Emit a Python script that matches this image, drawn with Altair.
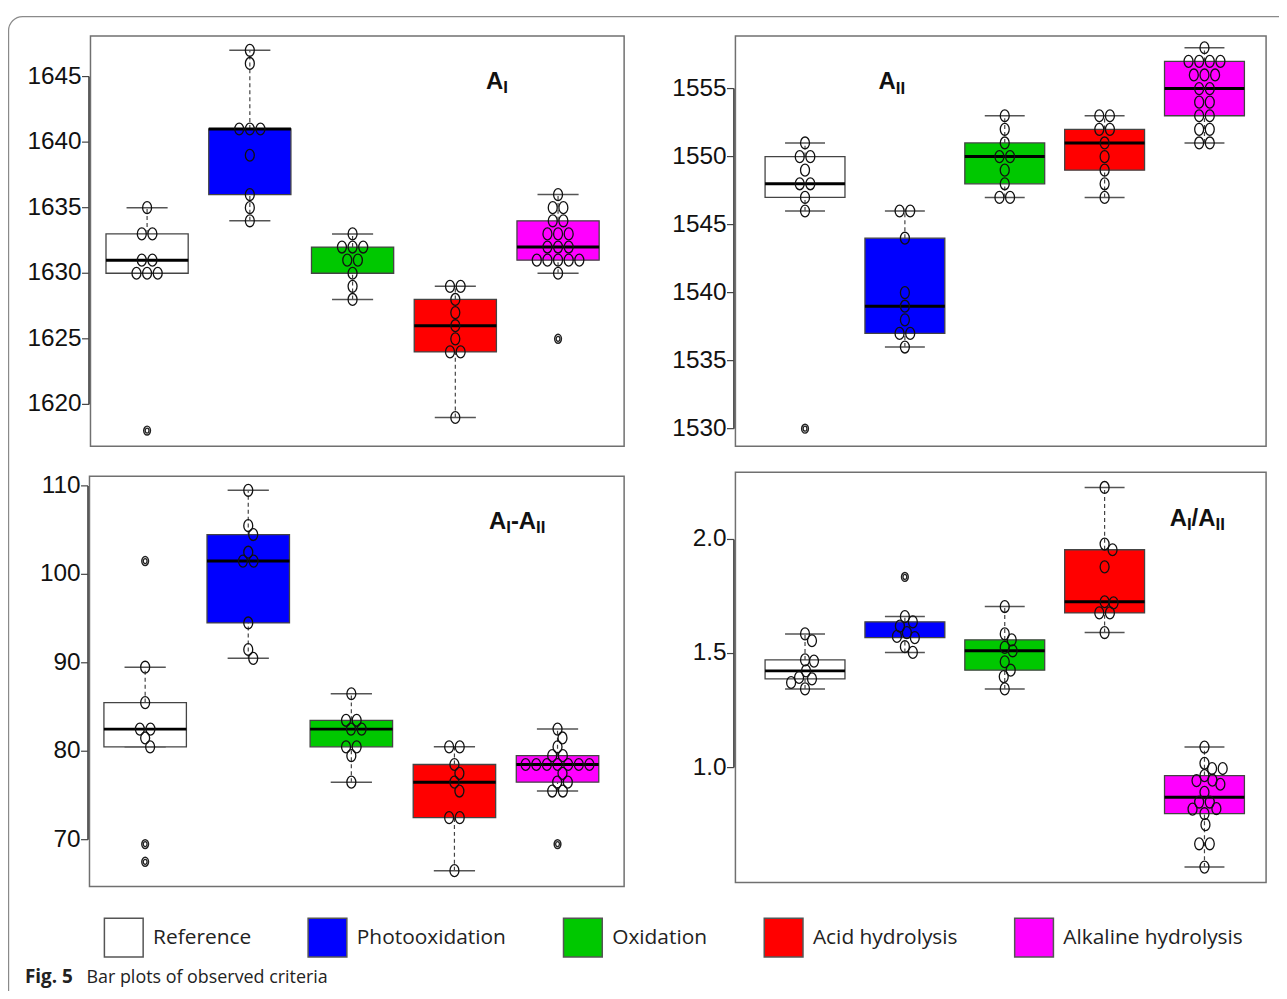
import math
import altair as alt
import pandas as pd

groups = ["Reference", "Photooxidation", "Oxidation", "Acid hydrolysis", "Alkaline hydrolysis"]
colors = ["#FFFFFF", "#0000FF", "#00C800", "#FF0000", "#FF00FF"]

# ---- A_I ----
a1_ref = [1635, 1633, 1633, 1631, 1631, 1630, 1630, 1630, 1618]
a1_photo = [1647, 1646, 1641, 1641, 1641, 1639, 1636, 1635, 1634]
a1_ox = [1633, 1632, 1632, 1632, 1631, 1631, 1630, 1629, 1628]
a1_acid = [1629, 1629, 1628, 1627, 1626, 1625, 1624, 1624, 1619]
a1_alk = [1636, 1635, 1635, 1634, 1634, 1633, 1633, 1633, 1632, 1632, 1632,
          1631, 1631, 1631, 1631, 1631, 1630, 1625]
# ---- A_II ----
a2_ref = [1551, 1550, 1550, 1549, 1548, 1548, 1547, 1546, 1530]
a2_photo = [1546, 1546, 1544, 1540, 1539, 1538, 1537, 1537, 1536]
a2_ox = [1553, 1552, 1551, 1550, 1550, 1549, 1548, 1547, 1547]
a2_acid = [1553, 1553, 1552, 1552, 1551, 1550, 1549, 1548, 1547]
a2_alk = [1558, 1557, 1557, 1557, 1557, 1556, 1556, 1556, 1555, 1555, 1554,
          1554, 1553, 1553, 1552, 1552, 1551, 1551]
# ---- A_I - A_II ----
a3_ref = [101.5, 89.5, 85.5, 82.5, 82.5, 81.5, 80.5, 69.5, 67.5]
a3_photo = [109.5, 105.5, 104.5, 102.5, 101.5, 101.5, 94.5, 91.5, 90.5]
a3_ox = [86.5, 83.5, 83.5, 82.5, 82.5, 80.5, 80.5, 79.5, 76.5]
a3_acid = [80.5, 80.5, 78.5, 77.5, 76.5, 75.5, 72.5, 72.5, 66.5]
a3_alk = [82.5, 81.5, 80.5, 79.5, 79.5, 78.5, 78.5, 78.5, 78.5, 78.5, 78.5,
          78.5, 77.5, 76.5, 76.5, 75.5, 75.5, 69.5]
# ---- A_I / A_II ----
a4_ref = [1.586, 1.556, 1.472, 1.467, 1.424, 1.395, 1.389, 1.373, 1.345]
a4_photo = [1.836, 1.662, 1.639, 1.620, 1.592, 1.575, 1.570, 1.530, 1.505]
a4_ox = [1.706, 1.586, 1.560, 1.527, 1.512, 1.464, 1.427, 1.399, 1.345]
a4_acid = [2.228, 1.980, 1.955, 1.880, 1.727, 1.722, 1.678, 1.678, 1.592]
a4_alk = [1.090, 1.019, 0.996, 0.996, 0.965, 0.945, 0.943, 0.927, 0.892,
          0.849, 0.849, 0.820, 0.818, 0.798, 0.750, 0.666, 0.666, 0.564]

# medians that are not visible in the original figure
hidden_medians = [("AI", "Oxidation"), ("AIAII", "Photooxidation")]

# panel layout (pixel ranges inside the single view) and scales
panels = [
    dict(key="AI", series=[a1_ref, a1_photo, a1_ox, a1_acid, a1_alk],
         ydom=[1616.8, 1648.1], ticks=[1620, 1625, 1630, 1635, 1640, 1645], fmt="{:.0f}",
         xdom=[0.449, 5.643], xr=[83, 620], yr=[433, 20],
         title=[("A", 0), ("I", 1)], tx=481, ty=73),
    dict(key="AII", series=[a2_ref, a2_photo, a2_ox, a2_acid, a2_alk],
         ydom=[1528.7, 1558.87], ticks=[1530, 1535, 1540, 1545, 1550, 1555], fmt="{:.0f}",
         xdom=[0.303, 5.617], xr=[732, 1266], yr=[433, 20],
         title=[("A", 0), ("II", 1)], tx=876, ty=73.5),
    dict(key="AImAII", series=[a3_ref, a3_photo, a3_ox, a3_acid, a3_alk],
         ydom=[64.7, 111.1], ticks=[70, 80, 90, 100, 110], fmt="{:.0f}",
         xdom=[0.46, 5.646], xr=[82, 620], yr=[876, 463],
         title=[("A", 0), ("I", 1), ("-A", 0), ("II", 1)], tx=484, ty=516),
    dict(key="AIAII", series=[a4_ref, a4_photo, a4_ox, a4_acid, a4_alk],
         ydom=[0.496, 2.295], ticks=[1.0, 1.5, 2.0], fmt="{:.1f}",
         xdom=[0.303, 5.617], xr=[732, 1266], yr=[872, 459],
         title=[("A", 0), ("I", 1), ("/A", 0), ("II", 1)], tx=1169, ty=513),
]

BIG, SUB = 24, 17
ADV = {"A": 0.722, "I": 0.278, "-": 0.333, "/": 0.278}


def fivenum(x):
    x = sorted(x)
    n = len(x)
    n4 = math.floor((n + 3) / 2) / 2
    d = [1, n4, (n + 1) / 2, n + 1 - n4, n]
    return [0.5 * (x[math.floor(k) - 1] + x[math.ceil(k) - 1]) for k in d]


def swarm(vals, ypx, W=9.0, H=12.0, sp=10.7):
    offs = [0.0] * len(vals)
    placed = []
    shifts = [0]
    for s in range(1, 60):
        shifts += [s, -s]
    for v in sorted(set(vals), reverse=True):
        idx = [i for i in range(len(vals)) if vals[i] == v]
        k = len(idx)
        base = [(j - (k - 1) / 2) * sp for j in range(k)]
        y = ypx(v)
        best = 0
        for s in shifts:
            ok = all(((b + s - px) / W) ** 2 + ((y - py) / H) ** 2 >= 0.85
                     for b in base for (px, py) in placed)
            if ok:
                best = s
                break
        for j, i in enumerate(idx):
            offs[i] = base[j] + best
            placed.append((base[j] + best, y))
    return offs


ELL = "M-0.75,0A0.75,1 0 1,0 0.75,0A0.75,1 0 1,0 -0.75,0Z"
cs = alt.Scale(domain=groups, range=colors)
LEG = alt.Legend(orient="none", legendX=96, legendY=907, direction="horizontal",
                 columns=5, title=None, symbolType="square", symbolSize=1521,
                 symbolStrokeColor="#555555", symbolStrokeWidth=1.5,
                 labelFont="Open Sans", labelFontSize=21, labelColor="#222222",
                 labelOffset=9, columnPadding=54, padding=0, labelLimit=0)


def build_panel(p):
    xs = alt.Scale(domain=p["xdom"], range=p["xr"], nice=False, zero=False)
    ys = alt.Scale(domain=p["ydom"], range=p["yr"], nice=False, zero=False)
    xppu = (p["xr"][1] - p["xr"][0]) / (p["xdom"][1] - p["xdom"][0])
    yppu = (p["yr"][0] - p["yr"][1]) / (p["ydom"][1] - p["ydom"][0])

    pts, boxes = [], []
    for gi, (gname, vals) in enumerate(zip(groups, p["series"]), start=1):
        mn, q1, med, q3, mx = fivenum(vals)
        iqr = q3 - q1
        inside = [v for v in vals if q1 - 1.5 * iqr <= v <= q3 + 1.5 * iqr]
        lo, hi = min(inside), max(inside)
        normal = [v for v in vals if lo <= v <= hi]
        offs = swarm(normal, lambda v: v * yppu)
        for v, o in zip(normal, offs):
            pts.append(dict(g=gi, grp=gname, v=v, xp=gi + o / xppu, out=False))
        for v in vals:
            if v < lo or v > hi:
                pts.append(dict(g=gi, grp=gname, v=v, xp=gi, out=True))
        boxes.append(dict(g=gi, grp=gname, q1=q1, med=med, q3=q3, lo=lo, hi=hi,
                          xl=gi - 0.4, xr=gi + 0.4, sl=gi - 0.2, sr=gi + 0.2,
                          showmed=(p["key"], gname) not in hidden_medians))
    pts = pd.DataFrame(pts)
    boxes = pd.DataFrame(boxes)
    ticks = pd.DataFrame({"t": p["ticks"], "lab": [p["fmt"].format(t) for t in p["ticks"]]})

    def X(f):
        return alt.X(f, type="quantitative", scale=xs, axis=None)

    def Y(f):
        return alt.Y(f, type="quantitative", scale=ys, axis=None)

    B = alt.Chart(boxes)
    whisk_hi = B.mark_rule(color="#444444", strokeWidth=1.2, strokeDash=[4, 3]).encode(
        x=X("g"), y=Y("q3"), y2=alt.Y2("hi"))
    whisk_lo = B.mark_rule(color="#444444", strokeWidth=1.2, strokeDash=[4, 3]).encode(
        x=X("g"), y=Y("lo"), y2=alt.Y2("q1"))
    staple_hi = B.mark_rule(color="#555555", strokeWidth=1.5).encode(
        x=X("sl"), x2=alt.X2("sr"), y=Y("hi"))
    staple_lo = B.mark_rule(color="#555555", strokeWidth=1.5).encode(
        x=X("sl"), x2=alt.X2("sr"), y=Y("lo"))
    box = B.mark_rect(stroke="#444444", strokeWidth=1.3, opacity=1).encode(
        x=X("xl"), x2=alt.X2("xr"), y=Y("q1"), y2=alt.Y2("q3"),
        color=alt.Color("grp:N", scale=cs, legend=LEG))
    median = B.transform_filter("datum.showmed").mark_rule(color="black", strokeWidth=3).encode(
        x=X("xl"), x2=alt.X2("xr"), y=Y("med"))

    P = alt.Chart(pts)
    points = P.transform_filter("!datum.out").mark_point(
        shape=ELL, size=144, filled=False, stroke="#111111", strokeWidth=1.3, opacity=1).encode(
        x=X("xp"), y=Y("v"))
    out1 = P.transform_filter("datum.out").mark_point(
        shape=ELL, size=81, filled=False, stroke="#222222", strokeWidth=1.5, opacity=1).encode(
        x=X("xp"), y=Y("v"))
    out2 = P.transform_filter("datum.out").mark_point(
        shape=ELL, size=25, filled=False, stroke="#222222", strokeWidth=1.3, opacity=1).encode(
        x=X("xp"), y=Y("v"))

    frame = alt.Chart(pd.DataFrame({"a": [0]})).mark_rect(
        fillOpacity=0, stroke="#707070", strokeWidth=1.5).encode(
        x=alt.value(p["xr"][0]), x2=alt.value(p["xr"][1]),
        y=alt.value(p["yr"][1]), y2=alt.value(p["yr"][0]))
    axline = alt.Chart(pd.DataFrame({"t0": [p["ticks"][0]], "t1": [p["ticks"][-1]]})).mark_rule(
        color="black", strokeWidth=1.2).encode(
        x=alt.value(p["xr"][0] - 1.5), y=Y("t0"), y2=alt.Y2("t1"))
    T = alt.Chart(ticks)
    tickmarks = T.mark_rule(color="#444444", strokeWidth=1.2).encode(
        x=alt.value(p["xr"][0] - 8.5), x2=alt.value(p["xr"][0] - 1.5), y=Y("t"))
    ticklabels = T.mark_text(align="right", baseline="middle", font="Liberation Sans",
                             fontSize=24.5, color="#111111").encode(
        x=alt.value(p["xr"][0] - 9), y=Y("t"), text="lab:N")

    # panel label with subscripts
    texts = []
    cx = p["tx"]
    for txt, sub in p["title"]:
        size = SUB if sub else BIG
        texts.append(alt.Chart(pd.DataFrame({"t": [txt]})).mark_text(
            align="left", baseline="alphabetic", font="Liberation Sans", fontWeight="bold",
            fontSize=size, color="#111111").encode(
            text="t:N", x=alt.value(cx), y=alt.value(p["ty"] + (4.5 if sub else 0))))
        cx += sum(ADV[c] for c in txt) * size

    return alt.layer(frame, axline, tickmarks, ticklabels, whisk_hi, whisk_lo, staple_hi,
                     staple_lo, box, median, points, out1, out2, *texts)


panel_charts = [build_panel(p) for p in panels]

outer = alt.Chart(pd.DataFrame({"a": [0]})).mark_rect(
    fillOpacity=0, stroke="#8a8a8a", strokeWidth=1.2, cornerRadius=14).encode(
    x=alt.value(0.6), x2=alt.value(1500), y=alt.value(0.6), y2=alt.value(1300))

cap1 = alt.Chart(pd.DataFrame({"t": ["Fig. 5"]})).mark_text(
    align="left", baseline="alphabetic", font="Open Sans", fontWeight="bold",
    fontSize=19, color="#222222").encode(
    text="t:N", x=alt.value(17), y=alt.value(973))
cap2 = alt.Chart(pd.DataFrame({"t": ["Bar plots of observed criteria"]})).mark_text(
    align="left", baseline="alphabetic", font="Open Sans", fontSize=18,
    color="#222222").encode(text="t:N", x=alt.value(79), y=alt.value(973))

chart = alt.layer(outer, *panel_charts, cap1, cap2).resolve_scale(
    x="independent", y="independent"
).properties(
    width=1279, height=978,
    padding={"left": 0, "top": 5, "right": 0, "bottom": 0},
    autosize=alt.AutoSizeParams(type="none"),
    background="white",
).configure_view(stroke=None)

chart.save("out.html", embed_options={"renderer": "svg", "actions": False})
